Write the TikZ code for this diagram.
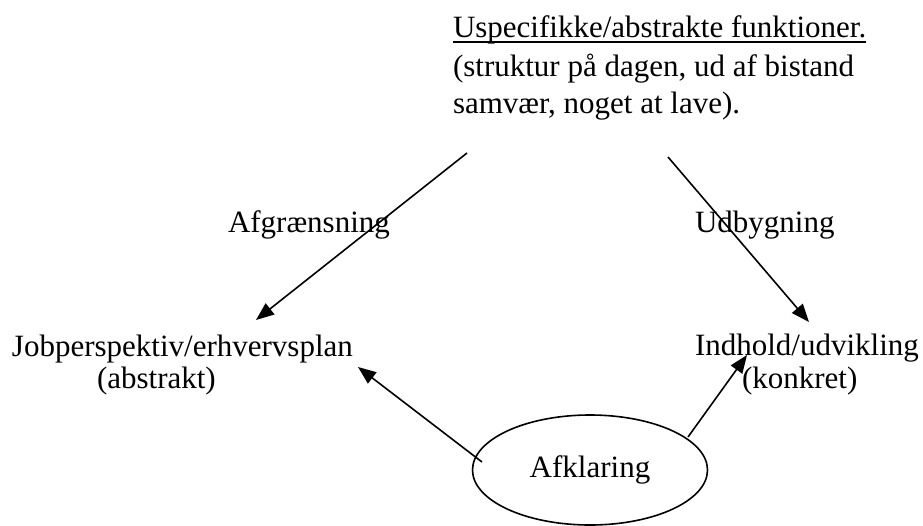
\documentclass[tikz,border=0pt]{standalone}
\usepackage{fontspec}
\setmainfont{Liberation Serif}
\usetikzlibrary{arrows.meta,shapes.geometric}
\begin{document}
\begin{tikzpicture}[x=1pt,y=-1pt,
  lbl/.style={inner sep=0pt,outer sep=0pt,anchor=base west,font=\fontsize{31}{39}\selectfont},
  arr/.style={line width=1.6pt,-{Triangle[length=18pt,width=14pt]}},
  ell/.style={draw,ellipse,line width=1.6pt,minimum width=235pt,minimum height=110pt,inner sep=0pt,font=\fontsize{31}{39}\selectfont}]
\useasboundingbox (0,0) rectangle (923,525);
\node[lbl] (top1) at (453,37) {Uspecifikke/abstrakte funktioner.};
\draw[line width=1.5pt] ([yshift=-5pt]top1.base west) -- ([yshift=-5pt]top1.base east);
\node[lbl] (top2) at (453,76) {(struktur på dagen, ud af bistand};
\node[lbl] (top3) at (453,113) {samvær, noget at lave).};
\node[lbl] (afg) at (228,232) {Afgrænsning};
\node[lbl] (udb) at (695,232) {Udbygning};
\node[lbl] (job) at (12,356) {Jobperspektiv/erhvervsplan};
\node[lbl] (abs) at (97,388) {(abstrakt)};
\node[lbl] (ind) at (695,355) {Indhold/udvikling};
\node[lbl] (kon) at (742,388) {(konkret)};
\node[ell] (afk) at (590,470) {Afklaring};
\coordinate (s1) at (467,153);
\coordinate (e1) at (256,320);
\coordinate (s2) at (668,157);
\coordinate (e2) at (809,322);
\coordinate (s3) at (482,462);
\coordinate (e3) at (358,367);
\coordinate (s4) at (688,437);
\coordinate (e4) at (747,355);
\draw[arr] (s1) -- (e1);
\draw[arr] (s2) -- (e2);
\draw[arr] (s3) -- (e3);
\draw[arr] (s4) -- (e4);
\end{tikzpicture}
\end{document}
